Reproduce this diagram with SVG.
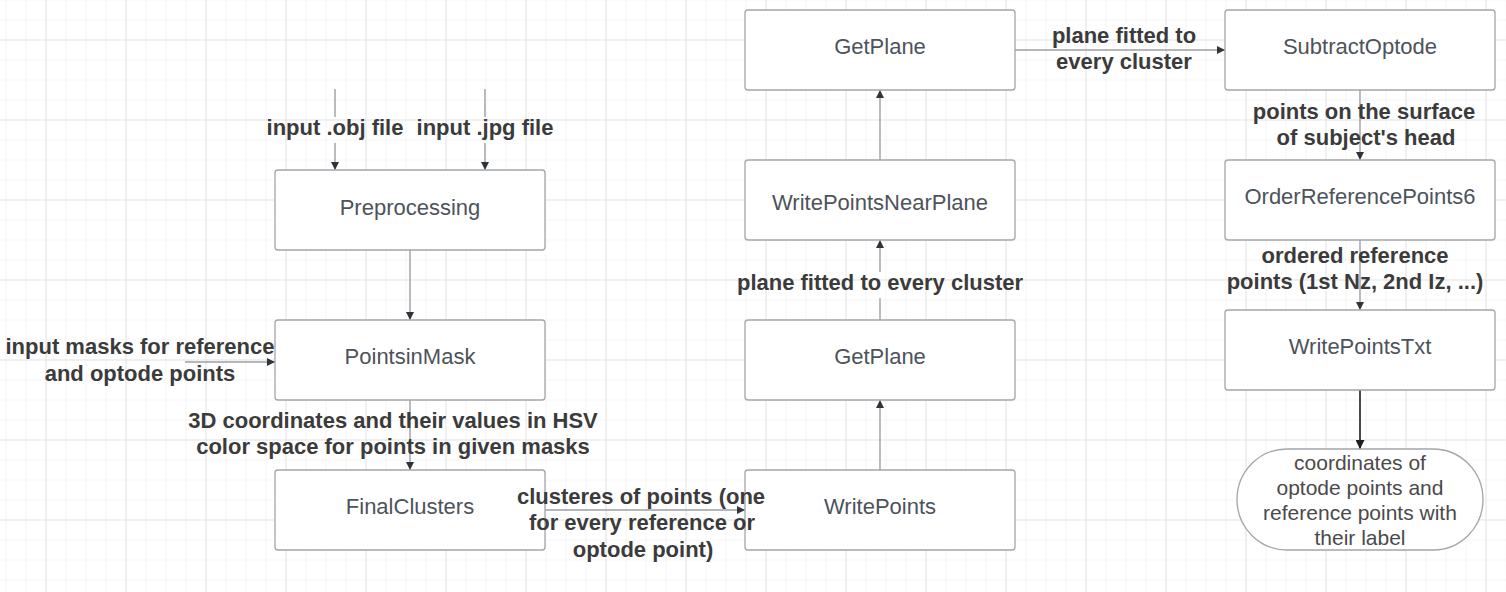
<svg xmlns="http://www.w3.org/2000/svg" width="1506" height="592" viewBox="0 0 1506 592">
<defs>
<pattern id="minor" x="5.5" y="19.5" width="20" height="20" patternUnits="userSpaceOnUse">
<path d="M0 0H20M0 0V20" fill="none" stroke="#ededed" stroke-width="1.2"/>
</pattern>
<pattern id="major" x="45.5" y="39.5" width="80" height="80" patternUnits="userSpaceOnUse">
<path d="M0 0H80M0 0V80" fill="none" stroke="#dedede" stroke-width="1.4"/>
</pattern>
<marker id="arr" viewBox="0 0 10 10" refX="10" refY="5" markerWidth="8" markerHeight="8" markerUnits="userSpaceOnUse" orient="auto">
<path d="M0 0L10 5L0 10Z" fill="#2f343b"/>
</marker>
<marker id="arr2" viewBox="0 0 10 10" refX="10" refY="5" markerWidth="9" markerHeight="9" markerUnits="userSpaceOnUse" orient="auto">
<path d="M0 0L10 5L0 10Z" fill="#1f1f1f"/>
</marker>
</defs>
<style>
.box{fill:#ffffff;stroke:#a4a5aa;stroke-width:1.3}
.bt{font-family:"Liberation Sans",Arial,sans-serif;font-size:22px;fill:#4d535b;text-anchor:middle}
.tt{font-family:"Liberation Sans",Arial,sans-serif;font-size:21px;fill:#4a4a4a;text-anchor:middle}
.lb{font-family:"Liberation Sans",Arial,sans-serif;font-size:22px;font-weight:bold;fill:#3b3b3b;text-anchor:middle}
.c{fill:none;stroke:#9d9fa5;stroke-width:1.4}
.ca{fill:none;stroke:#9d9fa5;stroke-width:1.4;marker-end:url(#arr)}
.cd{fill:none;stroke:#4a4a4a;stroke-width:2;marker-end:url(#arr2)}
</style>
<rect width="1506" height="592" fill="#ffffff"/>
<rect width="1506" height="592" fill="url(#minor)"/>
<rect width="1506" height="592" fill="url(#major)"/>

<g id="connectors">
<path class="c" d="M335 89V117"/>
<path class="ca" d="M335 143V170"/>
<path class="c" d="M485 89V117"/>
<path class="ca" d="M485 143V170"/>
<path class="ca" d="M410 250V320"/>
<path class="ca" d="M185 362H275"/>
<path class="ca" d="M410 400V470"/>
<path class="ca" d="M545 510H745"/>
<path class="ca" d="M880 470V400"/>
<path class="c" d="M880 320V298"/>
<path class="ca" d="M880 272V240"/>
<path class="ca" d="M880 160V90"/>
<path class="ca" d="M1015 50H1225"/>
<path class="ca" d="M1360 90V160"/>
<path class="ca" d="M1360 240V310"/>
<path class="cd" d="M1360 390V449"/>
</g>

<g id="preprocessing"><rect class="box" x="275" y="170" width="270" height="80" rx="3"/><text class="bt" x="410" y="215">Preprocessing</text></g>
<g id="pointsinmask"><rect class="box" x="275" y="320" width="270" height="80" rx="3"/><text class="bt" x="410" y="364">PointsinMask</text></g>
<g id="finalclusters"><rect class="box" x="275" y="470" width="270" height="80" rx="3"/><text class="bt" x="410" y="514">FinalClusters</text></g>
<g id="writepoints"><rect class="box" x="745" y="470" width="270" height="80" rx="3"/><text class="bt" x="880" y="514">WritePoints</text></g>
<g id="getplane2"><rect class="box" x="745" y="320" width="270" height="80" rx="3"/><text class="bt" x="880" y="364">GetPlane</text></g>
<g id="writepointsnearplane"><rect class="box" x="745" y="160" width="270" height="80" rx="3"/><text class="bt" x="880" y="210">WritePointsNearPlane</text></g>
<g id="getplane1"><rect class="box" x="745" y="10" width="270" height="80" rx="3"/><text class="bt" x="880" y="54">GetPlane</text></g>
<g id="subtractoptode"><rect class="box" x="1225" y="10" width="270" height="80" rx="3"/><text class="bt" x="1360" y="54">SubtractOptode</text></g>
<g id="orderreferencepoints6"><rect class="box" x="1225" y="160" width="270" height="80" rx="3"/><text class="bt" x="1360" y="204">OrderReferencePoints6</text></g>
<g id="writepointstxt"><rect class="box" x="1225" y="310" width="270" height="80" rx="3"/><text class="bt" x="1360" y="354">WritePointsTxt</text></g>
<g id="output"><rect class="box" x="1237" y="449" width="246" height="101" rx="50" ry="50.5"/>
<text class="tt" x="1360" y="470">coordinates of</text>
<text class="tt" x="1360" y="495">optode points and</text>
<text class="tt" x="1360" y="520">reference points with</text>
<text class="tt" x="1360" y="545">their label</text>
</g>

<g id="connector-labels">
<text class="lb" x="335" y="135">input .obj file</text>
<text class="lb" x="485" y="135">input .jpg file</text>
<text class="lb" x="140" y="354">input masks for reference</text>
<text class="lb" x="140" y="381">and optode points</text>
<text class="lb" x="393" y="428">3D coordinates and their values in HSV</text>
<text class="lb" x="393" y="454">color space for points in given masks</text>
<text class="lb" x="641" y="504">clusteres of points (one</text>
<text class="lb" x="642" y="530">for every reference or</text>
<text class="lb" x="643" y="557">optode point)</text>
<text class="lb" x="880" y="290">plane fitted to every cluster</text>
<text class="lb" x="1124" y="43">plane fitted to</text>
<text class="lb" x="1124" y="69">every cluster</text>
<text class="lb" x="1364" y="119">points on the surface</text>
<text class="lb" x="1366" y="145">of subject's head</text>
<text class="lb" x="1355" y="263">ordered reference</text>
<text class="lb" x="1355" y="289">points (1st Nz, 2nd Iz, ...)</text>
</g>
</svg>
